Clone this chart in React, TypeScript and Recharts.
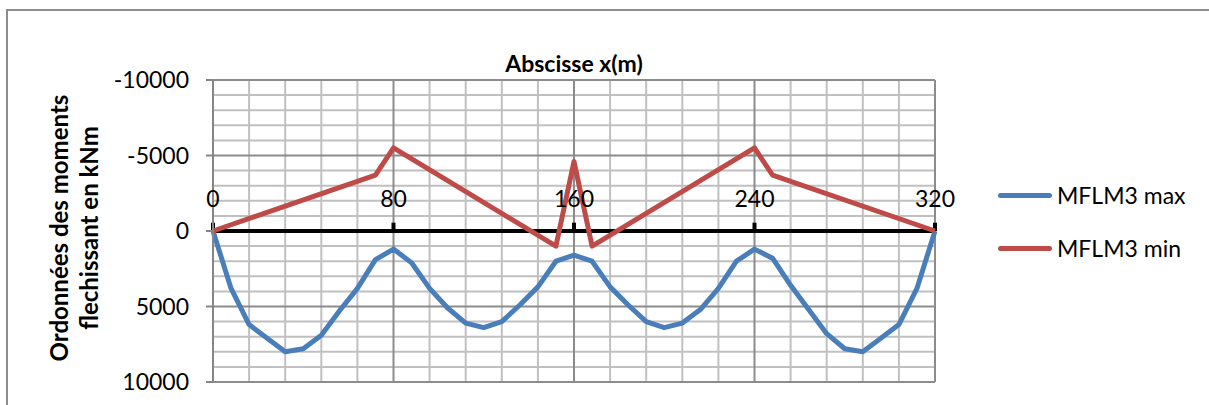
import React from "react";
import { LineChart, Line, XAxis, YAxis, ReferenceLine, ReferenceDot } from "recharts";

// ---- data ----
const maxX = [0, 8, 16, 24, 32, 40, 48, 56, 64, 72, 80, 88, 96, 104, 112, 120, 128, 136, 144, 152, 160, 168, 176, 184, 192, 200, 208, 216, 224, 232, 240, 248, 256, 264, 272, 280, 288, 296, 304, 312, 320];
const maxValues = [0, 3800, 6200, 7100, 8000, 7800, 6900, 5300, 3800, 1900, 1200, 2100, 3800, 5100, 6100, 6400, 6000, 4900, 3700, 2000, 1600, 2000, 3700, 4900, 6000, 6400, 6100, 5200, 3800, 2000, 1200, 1800, 3600, 5200, 6800, 7800, 8000, 7100, 6200, 3800, 0];
const minX = [0, 72, 80, 152, 160, 168, 240, 248, 320];
const minValues = [0, -3700, -5500, 1000, -4600, 1000, -5500, -3700, 0];

const seriesNames = ["MFLM3 max", "MFLM3 min"];
const seriesColors = ["#4a7ebb", "#be4b48"];

const xTickLabels = [0, 80, 160, 240, 320];
const yTicks = [-10000, -5000, 0, 5000, 10000];
const minorX = [16, 32, 48, 64, 96, 112, 128, 144, 176, 192, 208, 224, 256, 272, 288, 304];
const majorX = [80, 160, 240, 320];
const minorY = [-9000, -8000, -7000, -6000, -4000, -3000, -2000, -1000, 1000, 2000, 3000, 4000, 6000, 7000, 8000, 9000];
const majorY = [-10000, -5000, 5000, 10000];

const titleText = "Abscisse x(m)";
const yLabelLines = ["Ordonnées des moments", "flechissant en kNm"];

const maxData = maxX.map((x, i) => ({ x, v: maxValues[i] }));
const minData = minX.map((x, i) => ({ x, v: minValues[i] }));

const FONT = "Lato, 'Noto Sans', sans-serif";

export default function App() {
  return (
    <div style={{ position: "fixed", left: 0, top: 0, width: 1209, height: 405, overflow: "hidden", background: "#fff", fontFamily: FONT }}>
      <div style={{ position: "absolute", left: 6, top: 9, width: 1400, height: 600, borderLeft: "2px solid #8c8c8c", borderTop: "2px solid #8c8c8c" }} />
      <div style={{ position: "absolute", left: 0, top: 0 }}>
        <LineChart width={1209} height={405} data={maxData} margin={{ top: 80, right: 274, bottom: 23, left: 113 }}>
          <XAxis dataKey="x" type="number" domain={[0, 320]} hide />
          <YAxis
            type="number"
            domain={[-10000, 10000]}
            ticks={yTicks}
            reversed
            width={100}
            interval={0}
            axisLine={{ stroke: "#868686", strokeWidth: 2 }}
            tickLine={{ stroke: "#868686", strokeWidth: 2 }}
            tickSize={7}
            tickMargin={17}
            tick={{ fill: "#000", fontSize: 23, fontFamily: FONT }}
          />
          {minorY.map((v) => (
            <ReferenceLine key={"my" + v} y={v} stroke="#c0c0c0" strokeWidth={2} />
          ))}
          {minorX.map((v) => (
            <ReferenceLine key={"mx" + v} x={v} stroke="#c0c0c0" strokeWidth={2} />
          ))}
          {majorY.map((v) => (
            <ReferenceLine key={"My" + v} y={v} stroke="#8c8c8c" strokeWidth={2} />
          ))}
          {majorX.map((v) => (
            <ReferenceLine key={"Mx" + v} x={v} stroke="#8c8c8c" strokeWidth={2} />
          ))}
          <ReferenceLine y={0} stroke="#000" strokeWidth={4} />
          {xTickLabels.map((v) => (
            <ReferenceLine key={"t" + v} segment={[{ x: v, y: 0 }, { x: v, y: -550 }]} stroke="#000" strokeWidth={4} />
          ))}
          {xTickLabels.map((v) => (
            <ReferenceDot
              key={"l" + v}
              x={v}
              y={0}
              r={0}
              fill="none"
              stroke="none"
              label={{ value: String(v), position: "top", offset: 24, fill: "#000", fontSize: 23, fontFamily: FONT }}
            />
          ))}
          <Line data={maxData} dataKey="v" name={seriesNames[0]} stroke={seriesColors[0]} strokeWidth={5} strokeLinejoin="round" dot={false} isAnimationActive={false} />
          <Line data={minData} dataKey="v" name={seriesNames[1]} stroke={seriesColors[1]} strokeWidth={5} strokeLinejoin="round" dot={false} isAnimationActive={false} />
        </LineChart>
      </div>
      <div style={{ position: "absolute", left: 374, width: 400, top: 49, textAlign: "center", fontWeight: 700, fontSize: 23, lineHeight: "28px" }}>{titleText}</div>
      <div
        style={{
          position: "absolute",
          left: 74 - 160,
          top: 228 - 30,
          width: 320,
          height: 60,
          transform: "rotate(-90deg)",
          textAlign: "center",
          fontWeight: 700,
          fontSize: 24,
          lineHeight: "30px",
        }}
      >
        <div>{yLabelLines[0]}</div>
        <div>{yLabelLines[1]}</div>
      </div>
      {seriesNames.map((n, i) => (
        <div key={n} style={{ position: "absolute", left: 998, top: i === 0 ? 180 : 233, height: 30, display: "flex", alignItems: "center" }}>
          <div style={{ width: 54, height: 5, borderRadius: 3, background: seriesColors[i] }} />
          <span style={{ marginLeft: 5, fontSize: 23, color: "#000" }}>{n}</span>
        </div>
      ))}
    </div>
  );
}
